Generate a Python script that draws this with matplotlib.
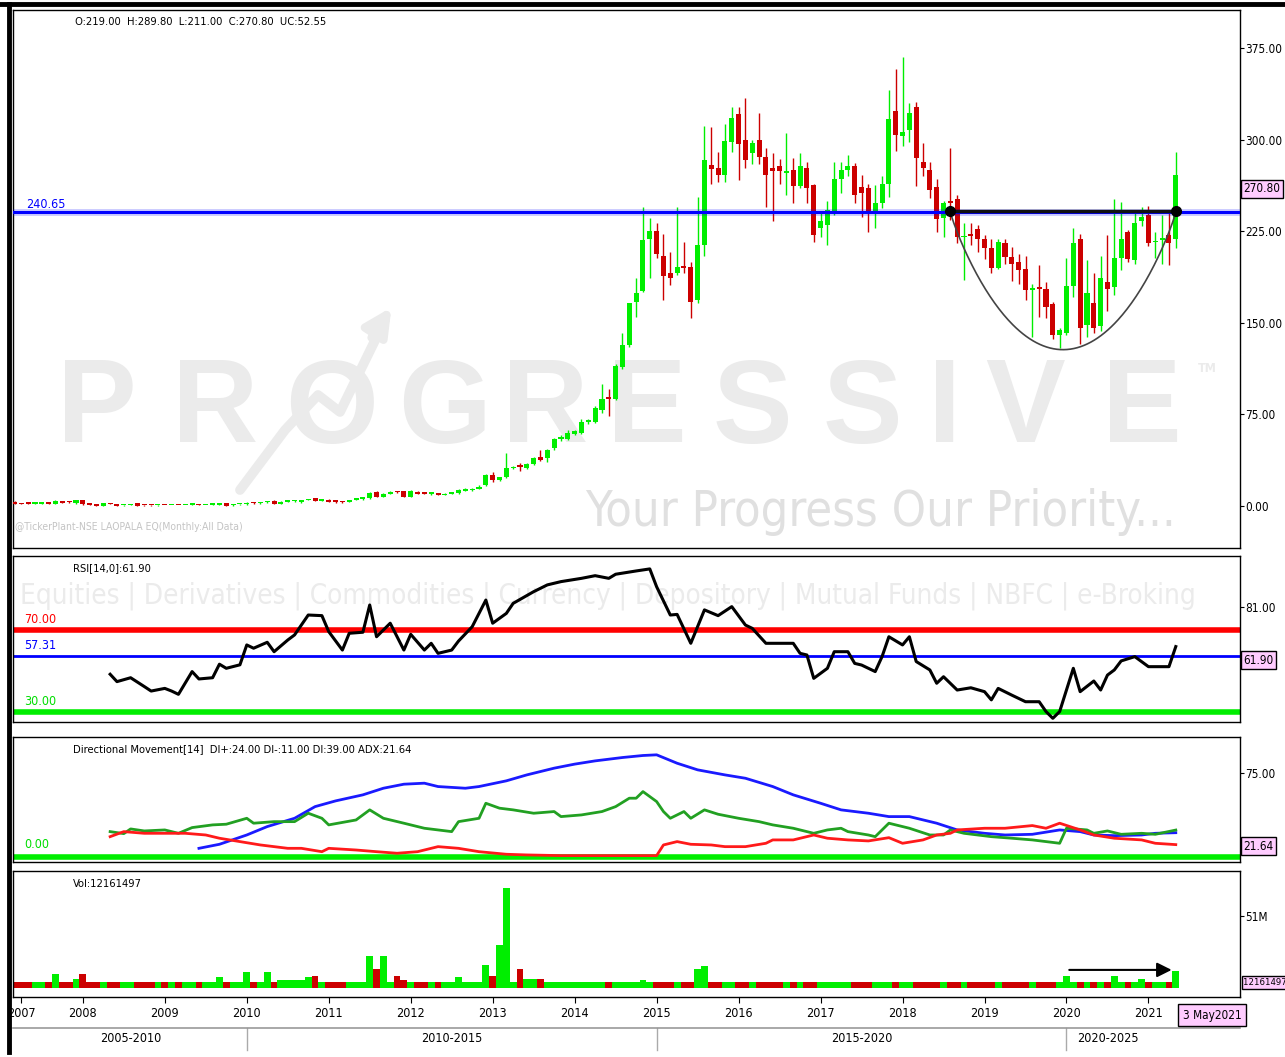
import numpy as np
import matplotlib.pyplot as plt
from matplotlib.lines import Line2D
import matplotlib.transforms as mtransforms

plt.rcParams['font.family'] = ['DejaVu Sans']
plt.rcParams['font.stretch'] = 'condensed'

# monthly candles, Mar 2007 .. May 2021 (index 0 = Mar 2007)
opens = [3.5, 2.2, 2.2, 1.8, 2.0, 2.4, 1.6, 3.6, 3.4, 2.2,
         4.9, 2.2, 1.6, 0.3, 2.2, 1.6, 0.5, 0.8, 2.2, 1.0,
         1.0, 0.5, 1.0, 0.6, 1.0, 0.6, 0.9, 1.1, 0.6, 0.9,
         0.9, 2.2, 0.5, 1.5, 1.5, 2.8, 2.2, 3.0, 3.8, 2.0,
         3.3, 3.8, 3.0, 4.9, 6.3, 4.4, 5.2, 4.9, 4.0, 3.2,
         4.9, 5.5, 6.3, 11.5, 7.5, 10.0, 12.0, 12.0, 7.7, 11.5,
         11.0, 10.0, 10.5, 9.0, 10.0, 10.5, 12.5, 13.0, 14.0, 17.0,
         25.0, 21.0, 23.7, 31.0, 32.5, 31.0, 34.0, 40.0, 39.0, 47.5,
         55.0, 55.0, 59.0, 60.0, 69.0, 69.0, 79.0, 89.0, 88.0, 114.0,
         132.0, 167.0, 176.0, 219.0, 225.0, 205.0, 191.0, 191.0, 196.0, 196.0,
         169.0, 214.0, 279.0, 277.0, 271.0, 298.0, 321.0, 300.0, 289.0, 300.0,
         286.0, 277.0, 278.0, 273.0, 275.0, 262.0, 277.0, 263.0, 228.0, 230.0,
         241.0, 268.0, 275.0, 278.0, 261.0, 260.0, 240.0, 248.0, 264.0, 323.0,
         303.0, 308.0, 327.0, 282.0, 275.0, 261.0, 236.0, 250.0, 251.0, 220.0,
         223.0, 227.0, 219.0, 211.0, 195.0, 215.0, 204.0, 200.0, 194.0, 177.0,
         179.0, 178.0, 165.0, 140.0, 142.0, 180.0, 219.0, 148.0, 166.0, 147.0,
         183.0, 179.0, 203.0, 224.0, 201.0, 233.0, 238.0, 216.0, 218.0, 222.0,
         219.0]
highs = [4.0, 2.6, 2.5, 2.6, 2.8, 2.7, 4.5, 4.0, 3.8, 5.2,
         5.2, 2.5, 2.0, 2.5, 2.4, 1.8, 1.2, 1.4, 2.4, 1.2,
         1.2, 1.0, 1.2, 1.0, 1.2, 1.0, 1.3, 1.3, 1.0, 1.4,
         2.5, 2.4, 1.8, 2.0, 3.2, 3.0, 3.5, 4.0, 4.5, 3.8,
         4.3, 5.0, 5.2, 5.8, 6.8, 5.6, 5.5, 5.2, 4.4, 5.2,
         6.5, 7.5, 11.8, 12.2, 10.5, 12.0, 12.5, 12.4, 13.0, 12.0,
         11.4, 10.8, 11.0, 10.4, 11.0, 13.5, 14.5, 14.5, 17.0, 26.0,
         28.0, 24.0, 43.0, 33.0, 35.0, 35.0, 40.0, 46.0, 47.0, 56.0,
         58.0, 62.0, 62.0, 71.0, 71.0, 82.0, 100.0, 96.0, 116.0, 142.0,
         166.0, 187.0, 245.0, 236.0, 232.0, 223.0, 208.0, 245.0, 216.0, 200.0,
         253.0, 311.0, 310.0, 290.0, 313.0, 327.0, 327.0, 334.0, 300.0, 322.0,
         293.0, 289.0, 284.0, 305.0, 285.0, 289.0, 282.0, 264.0, 240.0, 250.0,
         282.0, 282.0, 287.0, 281.0, 271.0, 264.0, 263.0, 270.0, 341.0, 358.0,
         368.0, 330.0, 331.0, 297.0, 282.0, 268.0, 250.0, 293.0, 255.0, 232.0,
         232.0, 230.0, 222.0, 219.0, 219.0, 219.0, 212.0, 206.0, 205.0, 182.0,
         197.0, 183.0, 167.0, 146.0, 203.0, 228.0, 223.0, 201.0, 191.0, 205.0,
         222.0, 251.0, 249.0, 226.0, 241.0, 245.0, 246.0, 224.0, 238.0, 240.0,
         289.8]
lows = [1.5, 1.4, 1.5, 1.5, 1.8, 1.6, 1.4, 2.4, 2.6, 2.0,
        1.2, 0.8, 0.2, 0.2, 1.4, 0.2, 0.3, 0.5, 0.2, 0.3,
        0.3, 0.3, 0.4, 0.4, 0.5, 0.4, 0.7, 0.5, 0.4, 0.7,
        0.7, 0.2, 0.3, 1.2, 1.2, 2.0, 2.0, 2.8, 1.6, 1.8,
        3.0, 3.5, 2.8, 4.6, 4.2, 4.0, 3.2, 2.8, 2.8, 3.0,
        4.6, 5.2, 6.0, 7.0, 7.2, 9.6, 11.0, 7.2, 7.4, 9.6,
        9.6, 9.2, 8.6, 8.8, 9.8, 10.2, 12.0, 12.5, 13.6, 16.5,
        20.0, 20.5, 23.0, 30.0, 29.0, 30.5, 33.5, 37.0, 36.0, 46.0,
        53.0, 54.0, 58.0, 59.0, 67.0, 68.0, 76.0, 74.0, 87.0, 112.0,
        130.0, 155.0, 175.0, 187.0, 203.0, 169.0, 181.0, 189.0, 191.0, 154.0,
        166.0, 205.0, 264.0, 265.0, 265.0, 290.0, 267.0, 277.0, 280.0, 280.0,
        245.0, 233.0, 264.0, 255.0, 248.0, 260.0, 248.0, 216.0, 220.0, 214.0,
        238.0, 256.0, 270.0, 248.0, 237.0, 224.0, 228.0, 244.0, 253.0, 291.0,
        295.0, 298.0, 262.0, 270.0, 252.0, 224.0, 220.0, 234.0, 215.0, 185.0,
        214.0, 208.0, 202.0, 191.0, 194.0, 198.0, 184.0, 182.0, 169.0, 138.0,
        155.0, 154.0, 137.0, 129.0, 140.0, 171.0, 133.0, 138.0, 142.0, 143.0,
        160.0, 173.0, 193.0, 200.0, 198.0, 229.0, 213.0, 203.0, 198.0, 197.0,
        211.0]
closes = [2.0, 1.6, 1.8, 2.2, 2.4, 1.8, 4.0, 2.6, 3.0, 4.9,
          1.5, 1.0, 0.3, 2.2, 1.6, 0.3, 0.9, 1.2, 0.3, 0.5,
          0.5, 0.8, 0.6, 0.9, 0.6, 0.9, 1.1, 0.6, 0.9, 1.2,
          2.2, 0.3, 1.5, 1.8, 2.8, 2.2, 3.3, 3.6, 1.8, 3.5,
          4.0, 4.6, 4.9, 5.2, 4.4, 5.2, 3.5, 3.0, 3.2, 4.9,
          6.3, 7.0, 11.0, 7.5, 10.0, 11.5, 11.3, 7.7, 12.5, 10.0,
          10.0, 10.3, 9.0, 10.0, 10.5, 13.1, 14.0, 14.0, 15.8, 25.0,
          21.0, 23.5, 31.0, 32.0, 32.0, 34.0, 39.0, 38.0, 46.0, 55.0,
          55.5, 60.0, 61.0, 69.0, 70.0, 80.0, 88.0, 88.0, 115.0, 132.0,
          166.0, 174.0, 218.0, 225.0, 206.0, 188.0, 187.0, 196.0, 195.0, 167.0,
          214.0, 283.0, 276.0, 271.0, 299.0, 318.0, 296.0, 283.0, 297.0, 286.0,
          271.0, 274.0, 274.0, 274.5, 262.0, 278.0, 260.0, 222.0, 233.0, 242.0,
          268.0, 275.0, 278.0, 255.0, 256.0, 240.0, 248.0, 264.0, 317.0, 304.0,
          306.0, 322.0, 285.0, 277.0, 259.0, 235.0, 248.0, 248.0, 220.0, 221.0,
          221.0, 219.0, 211.0, 195.0, 216.0, 204.0, 198.0, 193.0, 177.0, 178.0,
          178.0, 163.0, 140.0, 144.0, 180.0, 215.0, 146.0, 174.0, 146.0, 187.0,
          178.0, 203.0, 219.0, 202.0, 232.0, 237.0, 215.0, 217.0, 219.0, 215.0,
          270.8]
# volume in millions
volume = [4.5, 4.5, 4.5, 4.5, 4.5, 4.5, 9.9, 4.5, 4.5, 6.4,
          9.9, 4.5, 4.5, 4.5, 4.5, 4.5, 4.5, 4.5, 4.5, 4.5,
          4.5, 4.5, 4.5, 4.5, 4.5, 4.5, 4.5, 4.5, 4.5, 4.5,
          7.5, 4.5, 4.5, 4.5, 11.1, 4.5, 4.5, 11.1, 4.5, 5.5,
          5.5, 5.9, 5.9, 7.5, 8.3, 4.5, 4.5, 4.5, 4.5, 4.5,
          4.5, 4.5, 22.9, 13.6, 22.9, 4.5, 8.3, 6.0, 4.5, 4.5,
          4.5, 4.5, 4.5, 4.5, 4.5, 7.5, 4.5, 4.5, 4.5, 16.3,
          8.3, 30.5, 70.8, 4.5, 13.6, 6.4, 6.4, 6.4, 4.5, 4.5,
          4.5, 4.5, 4.5, 4.5, 4.5, 4.5, 4.5, 4.5, 4.5, 4.5,
          4.5, 4.5, 5.9, 4.5, 4.5, 4.5, 4.5, 4.5, 4.5, 4.5,
          13.5, 15.8, 4.5, 4.5, 4.5, 4.5, 4.5, 4.5, 4.5, 4.5,
          4.5, 4.5, 4.5, 4.5, 4.5, 4.5, 4.5, 4.5, 4.5, 4.5,
          4.5, 4.5, 4.5, 4.5, 4.5, 4.5, 4.5, 4.5, 4.5, 4.5,
          4.5, 4.5, 4.5, 4.5, 4.5, 4.5, 4.5, 4.5, 4.5, 4.5,
          4.5, 4.5, 4.5, 4.5, 4.5, 4.5, 4.5, 4.5, 4.5, 4.5,
          4.5, 4.5, 4.5, 4.5, 8.5, 4.5, 4.5, 4.5, 4.5, 4.5,
          4.5, 8.5, 4.5, 4.5, 4.5, 6.4, 4.5, 4.5, 4.5, 4.5,
          12.16]

rsi_month = [14, 15, 17, 19, 20, 22, 23, 24, 26, 27, 29, 30, 31, 33, 34, 35, 37, 38,
             40, 41, 43, 45, 46, 48, 49, 51, 52, 53, 55, 57, 58, 60, 61, 62, 64, 65,
             67, 69, 70, 72, 73, 76, 78, 80, 83, 85, 87, 88, 91, 93, 94, 96, 97, 99,
             101, 103, 105, 107, 108, 110, 112, 114, 115, 116, 117, 119, 120, 122, 123,
             124, 126, 127, 128, 130, 131, 132, 134, 135, 136, 138, 140, 142, 143, 144,
             146, 148, 150, 151, 152, 153, 155, 156, 158, 159, 160, 161, 162, 164, 166,
             169, 170]
rsi_value = [48.4, 44.8, 46.7, 42.4, 40.2, 41.5, 40.2, 38.6, 49.7, 46.1, 46.7, 53.3, 51.3,
             53.0, 62.7, 61.1, 64.0, 59.4, 65.1, 67.6, 77.3, 77.0, 69.2, 60.2, 68.4, 68.9,
             82.2, 66.7, 73.3, 60.2, 67.9, 60.2, 63.5, 58.6, 60.2, 64.6, 71.6, 84.6, 73.3,
             78.1, 83.0, 88.7, 92.0, 93.6, 95.2, 96.5, 95.2, 97.2, 98.8, 99.8, 91.1, 77.3,
             77.6, 63.5, 79.8, 77.0, 81.4, 72.4, 70.8, 63.5, 63.5, 63.5, 58.6, 57.8, 46.4,
             51.3, 59.4, 59.4, 53.7, 52.9, 49.7, 57.0, 66.7, 62.7, 66.7, 54.6, 50.5, 44.0,
             47.2, 40.7, 41.8, 39.9, 35.9, 41.5, 38.2, 35.0, 35.0, 30.2, 26.9, 30.2, 51.3,
             39.9, 45.1, 40.7, 48.0, 50.5, 54.9, 57.0, 52.1, 52.1, 61.9]

adx_month = [27, 30, 34, 37, 41, 44, 47, 51, 54, 57, 60, 62, 66, 68, 72, 75, 79, 82, 85,
             89, 92, 94, 97, 100, 104, 107, 111, 114, 118, 121, 125, 128, 131, 135, 138,
             142, 145, 149, 153, 156, 158, 161, 165, 167, 170]
adx_value = [7.7, 11.3, 19.6, 27.1, 34.5, 44.9, 50.0, 55.4, 61.3, 64.9, 65.8, 62.8, 61.3,
             62.8, 67.9, 73.2, 79.2, 82.8, 85.7, 88.7, 90.5, 91.1, 83.6, 77.7, 73.2, 70.2,
             62.8, 55.4, 47.9, 42.0, 39.0, 36.0, 36.0, 30.1, 24.1, 21.1, 19.6, 20.2, 24.1,
             22.6, 19.6, 19.0, 19.6, 21.1, 21.64]
dip_month = [14, 16, 17, 19, 22, 24, 26, 29, 31, 34, 35, 38, 41, 43, 45, 46, 50, 52, 54,
             57, 60, 64, 65, 68, 69, 71, 73, 76, 79, 80, 83, 86, 88, 90, 91, 92, 94, 95,
             96, 98, 99, 101, 103, 106, 109, 111, 114, 117, 119, 121, 122, 125, 126, 128,
             131, 134, 136, 137, 139, 143, 146, 149, 153, 154, 157, 158, 160, 162, 165,
             167, 170]
dip_value = [22.6, 20.8, 25.0, 23.2, 24.1, 21.1, 26.2, 28.6, 29.2, 34.5, 30.1, 31.5, 31.5,
             39.0, 34.5, 28.6, 33.0, 42.0, 34.5, 30.1, 25.6, 22.6, 31.5, 34.5, 47.9, 43.5,
             42.0, 39.0, 40.5, 36.0, 37.5, 40.5, 44.9, 52.4, 52.4, 58.3, 49.4, 40.5, 34.5,
             40.5, 34.5, 42.0, 38.1, 34.5, 31.5, 28.6, 25.6, 21.1, 24.1, 25.6, 22.6, 19.6,
             18.1, 30.1, 25.6, 19.6, 19.6, 24.1, 21.1, 18.1, 16.7, 15.2, 12.2, 25.6, 24.1,
             21.1, 23.2, 20.2, 21.1, 20.2, 24.0]
dim_month = [14, 16, 19, 22, 25, 28, 30, 33, 36, 40, 42, 45, 46, 50, 53, 56, 59, 62, 65,
             68, 72, 75, 80, 84, 89, 94, 95, 97, 99, 102, 104, 107, 110, 111, 114, 117,
             119, 122, 125, 128, 130, 133, 135, 137, 138, 142, 145, 149, 151, 153, 156,
             158, 161, 165, 167, 170]
dim_value = [18.1, 22.6, 21.1, 21.1, 21.1, 19.6, 16.7, 13.7, 10.7, 7.7, 7.7, 4.7, 7.7,
             6.2, 4.7, 3.3, 4.7, 9.2, 7.7, 4.7, 2.4, 1.8, 1.2, 1.2, 1.2, 1.2, 10.7, 13.7,
             11.3, 10.7, 9.2, 9.2, 12.2, 15.2, 15.2, 19.6, 16.7, 15.2, 14.3, 17.2, 12.2,
             15.2, 19.6, 21.1, 24.1, 25.6, 25.6, 28.0, 25.6, 30.1, 24.1, 19.6, 16.7, 15.2,
             12.2, 11.0]

year_month = [1, 10, 22, 34, 46, 58, 70, 82, 94, 106, 118, 130, 142, 154, 166]
year_labels = ['2007', '2008', '2009', '2010', '2011', '2012', '2013', '2014', '2015',
               '2016', '2017', '2018', '2019', '2020', '2021']
period_month = [17, 64, 124, 160]
period_labels = ['2005-2010', '2010-2015', '2015-2020', '2020-2025']
period_edges = [34, 94, 154]

resistance = 240.65
cup_start, cup_end, cup_bottom = 137, 170, 128.0

GREEN = '#00ee00'
RED = '#cc0000'

W, H = 1285, 1057
fig = plt.figure(figsize=(W / 100, H / 100), dpi=100)
fig.patch.set_facecolor('white')


def panel(top, bottom, left=13, right=1240):
    return [left / W, 1 - bottom / H, (right - left) / W, (bottom - top) / H]


ax1 = fig.add_axes(panel(10, 548))
ax2 = fig.add_axes(panel(556, 722), sharex=ax1)
ax3 = fig.add_axes(panel(737, 862), sharex=ax1)
ax4 = fig.add_axes(panel(871, 997), sharex=ax1)

n = len(closes)
x = np.arange(n)
o = np.array(opens)
c = np.array(closes)
up = c >= o
col = np.where(up, GREEN, RED)

# ---------- price panel ----------
ax1.set_xlim(-0.22, 179.4)
ax1.set_ylim(-34.4, 406.1)


def px1(xp, yp):
    return ((xp - 13) / 1227, (548 - yp) / 538)


wm = '#ebebeb'
letters = 'PROGRESSIVE'
centers = [97, 215, 332, 445, 545, 647, 752, 862, 945, 1025, 1142]
for ch, cx in zip(letters, centers):
    ax1.text(*px1(cx, 412), ch, transform=ax1.transAxes, ha='center', va='center',
             fontsize=86, color=wm, family=['Liberation Sans', 'DejaVu Sans'],
             fontweight='bold', fontstretch='normal', zorder=0)
ax1.text(*px1(1207, 369), 'TM', transform=ax1.transAxes, ha='center', va='center',
         fontsize=9, color=wm, fontweight='bold', zorder=0)
ax1.plot([px1(240, 490)[0], px1(285, 430)[0], px1(318, 395)[0], px1(340, 412)[0], px1(385, 320)[0]],
         [px1(240, 490)[1], px1(285, 430)[1], px1(318, 395)[1], px1(340, 412)[1], px1(385, 320)[1]],
         transform=ax1.transAxes, color=wm, lw=7, zorder=0, solid_capstyle='round')
ax1.annotate('', xy=px1(393, 305), xytext=px1(370, 340), xycoords='axes fraction',
             arrowprops=dict(arrowstyle='-|>', color=wm, lw=6, mutation_scale=40), zorder=0)
ax1.text(*px1(585, 512), 'Your Progress Our Priority...', transform=ax1.transAxes,
         ha='left', va='center', fontsize=35, color='#e0e0e0', zorder=0, clip_on=True)
ax1.text(*px1(15, 527), '@TickerPlant-NSE LAOPALA EQ(Monthly:All Data)', transform=ax1.transAxes,
         ha='left', va='center', fontsize=7.5, color='#c4c4c4', zorder=0)

ax1.vlines(x, lows, highs, colors=col, lw=1, zorder=2)
body_low = np.minimum(o, c)
body_h = np.maximum(np.abs(c - o), 1.2)
ax1.bar(x, body_h, bottom=body_low, width=0.74, color=col, lw=0, zorder=3)

ax1.axhline(resistance, color='#0000ff', lw=2.2, zorder=4)
ax1.axhline(resistance, color='#0000ff', lw=5, alpha=0.2, zorder=4)
ax1.text(*px1(26, 205), f'{resistance:.2f}', transform=ax1.transAxes, color='#0000ff',
         fontsize=9, ha='left', va='center')

# cup and handle
cx = np.linspace(cup_start, cup_end, 200)
u = (cx - (cup_start + cup_end) / 2) / ((cup_end - cup_start) / 2)
cy = resistance - (resistance - cup_bottom) * np.clip(1 - u ** 2, 0, 1) ** 0.9
ax1.plot(cx, cy, color='#444444', lw=1.2, zorder=5)
ax1.plot([cup_start, cup_end], [resistance + 1, resistance + 1], color='#111111', lw=2.5, zorder=5)
ax1.plot([cup_start, cup_end], [resistance + 1, resistance + 1], 'o', color='black', ms=7, zorder=6)

ax1.text(*px1(75, 22), 'O:219.00  H:289.80  L:211.00  C:270.80  UC:52.55',
         transform=ax1.transAxes, fontsize=8, ha='left', va='center')

price_ticks = [0, 75, 150, 225, 300, 375]
ax1.set_yticks(price_ticks)
ax1.set_yticklabels([f'{t:.2f}' for t in price_ticks])

# ---------- RSI panel ----------
ax2.set_ylim(25.1, 106.1)
ax2.text(0.006, 0.76, 'Equities | Derivatives | Commodities | Currency | Depository | Mutual Funds | NBFC | e-Broking',
         transform=ax2.transAxes, fontsize=20, color='#ebebeb', ha='left', va='center', zorder=0,
         clip_on=True)
ax2.axhline(70, color='#ff0000', lw=4, zorder=2)
ax2.axhline(57.31, color='#0000ff', lw=2, zorder=2)
ax2.axhline(30, color='#00ee00', lw=4, zorder=2)
ax2.plot(rsi_month, rsi_value, color='black', lw=2.2, zorder=3)
for val, colr in [(70, '#ff0000'), (57.31, '#0000ff'), (30, '#00dd00')]:
    ax2.annotate(f'{val:.2f}', xy=(0.009, val), xycoords=('axes fraction', 'data'),
                 xytext=(0, 3), textcoords='offset points', color=colr, fontsize=9, va='bottom')
ax2.text(0.049, 0.93, 'RSI[14,0]:61.90', transform=ax2.transAxes, fontsize=8, va='center')
ax2.set_yticks([81])
ax2.set_yticklabels(['81.00'])

# ---------- DMI panel ----------
ax3.set_ylim(-4.5, 107)
ax3.axhline(0, color='#00ee00', lw=4, zorder=2)
ax3.plot(adx_month, adx_value, color='#1a1aff', lw=2, zorder=3)
ax3.plot(dip_month, dip_value, color='#22a022', lw=2, zorder=3)
ax3.plot(dim_month, dim_value, color='#ff1a1a', lw=2, zorder=3)
ax3.annotate('0.00', xy=(0.009, 0), xycoords=('axes fraction', 'data'),
             xytext=(0, 4), textcoords='offset points', color='#00dd00', fontsize=9, va='bottom')
ax3.text(0.049, 0.9, 'Directional Movement[14]  DI+:24.00 DI-:11.00 DI:39.00 ADX:21.64',
         transform=ax3.transAxes, fontsize=8, va='center')
ax3.set_yticks([75])
ax3.set_yticklabels(['75.00'])

# ---------- Volume panel ----------
ax4.set_ylim(-6.4, 82.9)
ax4.bar(x, volume, width=1.0, color=col, lw=0, zorder=2)
ax4.annotate('', xy=(169.8, 12.8), xytext=(154, 12.8),
             arrowprops=dict(arrowstyle='-|>', color='black', lw=1.5, mutation_scale=22), zorder=4)
ax4.text(0.049, 0.9, 'Vol:12161497', transform=ax4.transAxes, fontsize=8, va='center')
ax4.set_yticks([51])
ax4.set_yticklabels(['51M'])
ax4.set_xticks(year_month)
ax4.set_xticklabels(year_labels)
ax4.tick_params(axis='x', length=4, pad=3, labelsize=9)

trans = mtransforms.blended_transform_factory(ax4.transData, ax4.transAxes)
for m, lab in zip(period_month, period_labels):
    ax4.text(m, -0.33, lab, transform=trans, ha='center', va='center', fontsize=9)
for m in period_edges:
    ax4.plot([m, m], [-0.246, -0.42], transform=trans, color='#aaaaaa', lw=1, clip_on=False)
ax4.plot([-0.22, 179.4], [-0.246, -0.246], transform=trans, color='#999999', lw=1.2, clip_on=False)

for ax in (ax1, ax2, ax3, ax4):
    ax.yaxis.tick_right()
    ax.tick_params(axis='y', direction='out', length=3, pad=1, labelsize=8.5)
    for s in ax.spines.values():
        s.set_color('black')
        s.set_linewidth(1)
for ax in (ax1, ax2, ax3):
    ax.tick_params(axis='x', bottom=False, labelbottom=False)

# pink value boxes
pink = dict(boxstyle='square,pad=0.2', fc='#ffccff', ec='black', lw=1)
for ax, val, txt, fs in [(ax1, 270.8, '270.80', 8.5), (ax2, 61.9, '61.90', 8.5),
                         (ax3, 21.64, '21.64', 8.5), (ax4, 12.16, '12161497', 6.8)]:
    ax.annotate(txt, xy=(1, val), xycoords=('axes fraction', 'data'), xytext=(2.5, -5),
                textcoords='offset points', ha='left', va='top', fontsize=fs, bbox=pink,
                fontstretch='condensed', annotation_clip=False)
fig.text(1212 / W, 1 - 1015 / H, '3 May2021', ha='center', va='center', fontsize=8.5,
         bbox=dict(boxstyle='square,pad=0.35', fc='#ffccff', ec='black', lw=1))

# outer frame
fig.add_artist(Line2D([0, 1], [1 - 4 / H, 1 - 4 / H], color='black', lw=3.5))
fig.add_artist(Line2D([9 / W, 9 / W], [1 - 4 / H, 1 - 1052 / H], color='black', lw=3.5))

fig.savefig('out.png', dpi=100)
